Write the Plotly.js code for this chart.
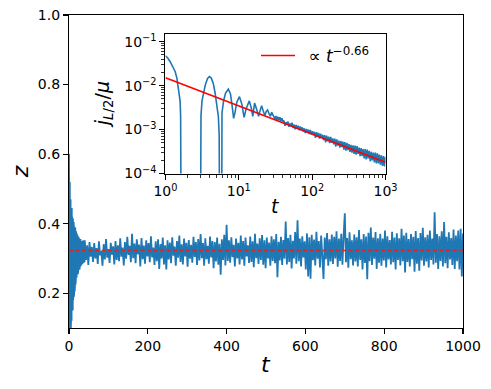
<!DOCTYPE html>
<html>
<head>
<meta charset="utf-8">
<script src="https://cdn.plot.ly/plotly-3.0.1.min.js"></script>
<style>html,body{margin:0;padding:0;background:#fff;}#chart{width:491px;height:389px;}</style>
</head>
<body>
<div id="chart"></div>
<script>
// ---- main panel: z(t) ----
// early transient, sampled every 0.5 from t = 0
const zEarlyStart = 0, zEarlyStep = 0.5;
const zEarly = [
0.600,0.150,0.560,0.110,0.520,0.090,0.495,0.120,0.470,0.095,
0.455,0.140,0.430,0.120,0.445,0.150,0.420,0.165,0.400,0.150,
0.415,0.180,0.395,0.200,0.405,0.190,0.385,0.215,0.392,0.205,
0.380,0.230,0.388,0.225,0.370,0.240,0.378,0.250,0.365,0.245,
0.372,0.258,0.360,0.262,0.366,0.255,0.355,0.268,0.362,0.270,
0.350,0.275,0.358,0.268,0.352,0.280,0.348,0.276,0.356,0.282,
0.345,0.285,0.350,0.280,0.342,0.288,0.349,0.284,0.340,0.290,
0.346,0.286,0.352,0.292,0.338,0.288,0.344,0.294,0.340,0.290];
// later part, sampled every 3 from t = 40
const zLateStart = 40, zLateStep = 3;
const zLate = [
0.352,0.296,0.338,0.281,0.347,0.305,0.333,0.290,0.344,0.300,
0.330,0.284,0.349,0.309,0.321,0.279,0.341,0.297,0.356,0.302,
0.327,0.287,0.345,0.311,0.335,0.283,0.350,0.296,0.338,0.292,
0.358,0.305,0.331,0.280,0.347,0.299,0.362,0.310,0.336,0.289,
0.371,0.301,0.343,0.286,0.355,0.312,0.340,0.277,0.359,0.298,
0.337,0.285,0.352,0.306,0.344,0.289,0.364,0.303,0.331,0.281,
0.349,0.292,0.355,0.270,0.341,0.300,0.360,0.283,0.338,0.268,
0.352,0.297,0.346,0.286,0.361,0.308,0.334,0.279,0.350,0.302,
0.366,0.290,0.341,0.283,0.357,0.306,0.345,0.276,0.353,0.299,
0.339,0.288,0.362,0.304,0.347,0.281,0.356,0.294,0.370,0.301,
0.344,0.279,0.358,0.298,0.336,0.285,0.363,0.303,0.350,0.272,
0.347,0.291,0.360,0.282,0.342,0.253,0.355,0.296,0.368,0.280,
0.397,0.293,0.352,0.288,0.361,0.304,0.339,0.277,0.357,0.300,
0.345,0.283,0.366,0.297,0.350,0.279,0.360,0.306,0.338,0.287,
0.363,0.290,0.349,0.275,0.371,0.301,0.343,0.284,0.358,0.296,
0.367,0.282,0.352,0.272,0.360,0.300,0.346,0.279,0.364,0.293,
0.355,0.286,0.370,0.246,0.348,0.294,0.362,0.281,0.353,0.299,
0.406,0.283,0.359,0.290,0.368,0.271,0.351,0.300,0.376,0.285,
0.410,0.292,0.357,0.277,0.364,0.303,0.349,0.268,0.372,0.248,
0.361,0.242,0.368,0.295,0.354,0.280,0.377,0.299,0.350,0.274,
0.366,0.286,0.241,0.360,0.298,0.373,0.279,0.355,0.291,0.369,
0.284,0.362,0.300,0.378,0.276,0.357,0.293,0.371,0.282,0.365,
0.430,0.289,0.359,0.273,0.375,0.298,0.352,0.280,0.369,0.291,
0.361,0.277,0.382,0.296,0.355,0.268,0.370,0.287,0.363,0.240,
0.374,0.292,0.389,0.281,0.360,0.299,0.376,0.270,0.358,0.288,
0.371,0.279,0.357,0.294,0.380,0.274,0.364,0.297,0.353,0.283,
0.377,0.289,0.360,0.268,0.372,0.296,0.358,0.280,0.385,0.292,
0.366,0.260,0.374,0.290,0.356,0.277,0.370,0.298,0.362,0.262,
0.379,0.285,0.359,0.265,0.373,0.294,0.388,0.279,0.361,0.291,
0.368,0.274,0.380,0.296,0.357,0.283,0.433,0.288,0.370,0.270,
0.364,0.293,0.378,0.277,0.405,0.286,0.362,0.272,0.375,0.297,
0.359,0.281,0.383,0.270,0.366,0.292,0.380,0.268,0.385,0.248,
0.372];
// mean value (dashed line)
const zMeanT = [0, 1000];
const zMean = [0.323, 0.323];

// ---- inset: j_{L/2}/mu vs t (log-log) ----
const jOscT = [1.0,1.08,1.16,1.25,1.355,1.43,1.50,1.55,1.585,1.61,1.63,2.3,
 3.02,3.05,3.15,3.29,3.5,3.75,3.97,4.2,4.5,4.75,5.0,5.26,5.4,5.45,5.65,
 5.85,5.9,6.2,6.6,7.2,7.7,8.1,8.5,8.9,9.4,10.2,11.0,11.8,12.6,13.9,14.8,15.5,16.4,
 17.5,18.6,19.5,20.5,21.6,22.7,23.7,24.7,25.8,27.0,28.0,29.0];
const jOsc = [0.048,0.042,0.035,0.028,0.021,0.015,0.0095,0.0058,0.0044,0.002,0.00002,null,
 0.00002,0.0021,0.0045,0.0068,0.0105,0.0145,0.016,0.015,0.011,0.0068,0.0040,0.0020,0.0008,0.00002,null,
 0.00002,0.0024,0.0045,0.0068,0.0083,0.0065,0.0035,0.0018,0.0025,0.0042,0.0056,0.0038,0.0019,0.0030,0.0045,0.0031,0.0020,0.0040,
 0.0029,0.0020,0.0027,0.0035,0.0026,0.0021,0.0026,0.0028,0.0023,0.0020,0.0025,0.0022];
// noisy tail, log-spaced samples from t = 30 to t = 1000
const jTailStart = 30, jTailEnd = 1000;
const jTail = [
2.10e-3,1.75e-3,2.05e-3,1.68e-3,1.95e-3,1.62e-3,1.90e-3,1.58e-3,1.82e-3,1.52e-3,
1.60e-3,1.22e-3,1.48e-3,1.30e-3,1.52e-3,1.16e-3,1.38e-3,1.20e-3,1.43e-3,1.08e-3,
1.30e-3,1.02e-3,1.27e-3,1.05e-3,1.22e-3,0.96e-3,1.18e-3,0.98e-3,1.12e-3,0.90e-3,
1.07e-3,8.3e-4,1.04e-3,8.5e-4,1.00e-3,7.9e-4,9.8e-4,7.7e-4,9.2e-4,7.5e-4,
8.9e-4,6.5e-4,8.7e-4,6.8e-4,8.4e-4,6.2e-4,8.1e-4,6.4e-4,7.6e-4,5.8e-4,
7.5e-4,5.1e-4,7.3e-4,5.4e-4,6.9e-4,4.9e-4,6.8e-4,5.0e-4,6.3e-4,4.6e-4,
6.2e-4,4.1e-4,6.0e-4,4.3e-4,5.6e-4,3.9e-4,5.5e-4,4.0e-4,5.3e-4,3.5e-4,
5.2e-4,3.3e-4,5.0e-4,3.4e-4,4.7e-4,3.1e-4,4.5e-4,3.0e-4,4.4e-4,2.8e-4,
4.3e-4,2.7e-4,4.2e-4,2.8e-4,3.9e-4,2.5e-4,3.8e-4,2.5e-4,3.6e-4,2.2e-4,
3.6e-4,2.1e-4,3.5e-4,2.2e-4,3.3e-4,1.9e-4,3.1e-4,2.0e-4,3.0e-4,1.8e-4,
3.0e-4,1.7e-4,2.9e-4,1.7e-4,2.7e-4,1.6e-4,2.6e-4,1.5e-4,2.5e-4,1.45e-4,2.4e-4];
// power-law fit  ∝ t^-0.66
const fitT = [1, 1000];
const fitJ = [0.0151, 1.8e-4];
const fitLabel = '\u2002\u221D <i>t</i><sup>\u22120.66</sup>';

// tick labels
const mainXTicks = [0, 200, 400, 600, 800, 1000];
const mainYTicks = [0.2, 0.4, 0.6, 0.8, 1.0];
const insetXTicks = [1, 10, 100, 1000];
const insetXText = ['10<sup>0</sup>','10<sup>1</sup>','10<sup>2</sup>','10<sup>3</sup>'];
const insetYTicks = [1e-4, 1e-3, 1e-2, 1e-1];
const insetYText = ['10<sup>\u22124</sup>','10<sup>\u22123</sup>','10<sup>\u22122</sup>','10<sup>\u22121</sup>'];

// ---- build series ----
const tMain = [], zMain = [];
zEarly.forEach((v, i) => { tMain.push(zEarlyStart + i * zEarlyStep); zMain.push(v); });
zLate.forEach((v, i) => { tMain.push(zLateStart + i * zLateStep); zMain.push(v); });

const jT = jOscT.slice(), jV = jOsc.slice();
const nTail = jTail.length;
jTail.forEach((v, i) => {
  jT.push(jTailStart * Math.pow(jTailEnd / jTailStart, i / (nTail - 1)));
  jV.push(v);
});

function minorVals(lo, hi) {
  const out = [];
  for (let e = lo; e < hi; e++) for (let m = 2; m <= 9; m++) out.push(m * Math.pow(10, e));
  return out;
}

const blue = '#1f77b4';
const traces = [
  {x: tMain, y: zMain, type: 'scatter', mode: 'lines', line: {color: blue, width: 1.8}, showlegend: false, xaxis: 'x', yaxis: 'y'},
  {x: zMeanT, y: zMean, type: 'scatter', mode: 'lines', line: {color: '#d62728', width: 1.6, dash: '4px,2.5px'}, showlegend: false, xaxis: 'x', yaxis: 'y'},
  {x: jT, y: jV, type: 'scatter', mode: 'lines', line: {color: blue, width: 1.6}, connectgaps: false, showlegend: false, xaxis: 'x2', yaxis: 'y2'},
  {x: fitT, y: fitJ, type: 'scatter', mode: 'lines', line: {color: '#ff0000', width: 1.5}, name: fitLabel, showlegend: true, xaxis: 'x2', yaxis: 'y2'}
];

const font = {family: 'DejaVu Sans', size: 14, color: '#000'};
const axBase = {showgrid: false, zeroline: false, showline: true, mirror: true, linecolor: '#000', linewidth: 1.1,
  ticks: 'outside', ticklen: 5, tickwidth: 1.1, tickcolor: '#000', tickfont: font};

const X0 = 68.7, PW = 394.6, Y0 = 328.3, PH = 313.3;
const px = v => (v - X0) / PW, py = v => (Y0 - v) / PH;

const layout = {
  width: 491, height: 389,
  margin: {l: 69, r: 28, t: 15, b: 61, pad: 0},
  paper_bgcolor: '#fff', plot_bgcolor: '#fff',
  font: font,
  xaxis: Object.assign({}, axBase, {range: [0, 1000], tickmode: 'array', tickvals: mainXTicks, domain: [0, 1], anchor: 'y'}),
  yaxis: Object.assign({}, axBase, {range: [0.1, 1.0], tickmode: 'array', tickvals: mainYTicks, tickformat: '.1f', domain: [0, 1], anchor: 'x'}),
  xaxis2: Object.assign({}, axBase, {type: 'log', range: [0, 3], tickmode: 'array', tickvals: insetXTicks, ticktext: insetXText,
    domain: [px(165.3), px(385.7)], anchor: 'y2',
    minor: {ticks: 'outside', ticklen: 3, tickwidth: 0.8, tickcolor: '#000', tickmode: 'array', tickvals: minorVals(0, 3), showgrid: false}}),
  yaxis2: Object.assign({}, axBase, {type: 'log', range: [-4, -0.825], tickmode: 'array', tickvals: insetYTicks, ticktext: insetYText,
    domain: [py(173.7), py(34)], anchor: 'x2',
    minor: {ticks: 'outside', ticklen: 3, tickwidth: 0.8, tickcolor: '#000', tickmode: 'array', tickvals: minorVals(-4, -1), showgrid: false}}),
  showlegend: true,
  legend: {x: px(256), y: py(56), xanchor: 'left', yanchor: 'middle', bgcolor: 'rgba(255,255,255,0)', borderwidth: 0,
    font: {family: 'DejaVu Sans', size: 17, color: '#000'}, itemwidth: 34},
  annotations: [
    {text: '<i>t</i>', xref: 'paper', yref: 'paper', x: 0.5, y: py(365), xanchor: 'center', yanchor: 'middle', showarrow: false, font: {family: 'DejaVu Sans', size: 22, color: '#000'}},
    {text: '<i>z</i>', xref: 'paper', yref: 'paper', x: px(20), y: py(172), xanchor: 'center', yanchor: 'middle', textangle: -90, showarrow: false, font: {family: 'DejaVu Sans', size: 22, color: '#000'}},
    {text: '<i>t</i>', xref: 'paper', yref: 'paper', x: px(275.6), y: py(206), xanchor: 'center', yanchor: 'middle', showarrow: false, font: {family: 'DejaVu Sans', size: 19, color: '#000'}},
    {text: '<i>j</i><sub><i>L</i>/2</sub>/<i>μ</i>', xref: 'paper', yref: 'paper', x: px(104), y: py(105), xanchor: 'center', yanchor: 'middle', textangle: -90, showarrow: false, font: {family: 'DejaVu Sans', size: 19, color: '#000'}}
  ]
};

Plotly.newPlot('chart', traces, layout, {displayModeBar: false, staticPlot: true});
</script>
</body>
</html>
